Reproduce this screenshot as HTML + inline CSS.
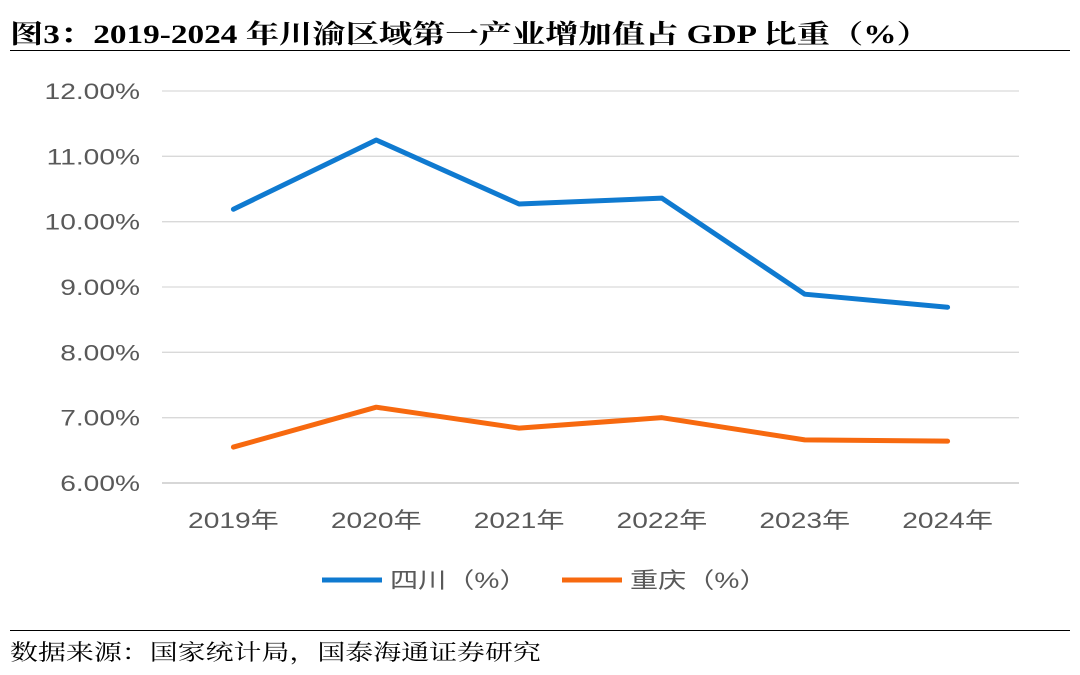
<!DOCTYPE html>
<html><head><meta charset="utf-8">
<style>
html,body{margin:0;padding:0;background:#fff;}
body{width:1080px;height:675px;overflow:hidden;position:relative;font-family:"Liberation Sans","Noto Sans CJK SC",sans-serif;}
#title{position:absolute;left:10px;top:14px;font-family:"Liberation Serif","Noto Serif CJK SC",serif;font-weight:bold;font-size:26px;color:#000;white-space:nowrap;transform:scaleX(1.28);transform-origin:0 0;}
#source{position:absolute;left:10px;top:636px;font-family:"Liberation Serif","Noto Serif CJK SC",serif;font-size:22px;color:#000;white-space:nowrap;transform:scaleX(1.27);transform-origin:0 0;}
.rule{position:absolute;left:10px;width:1060px;height:1px;background:#000;}
</style></head>
<body>
<div id="title">图3：2019-2024 年川渝区域第一产业增加值占 GDP 比重（%）</div>
<div class="rule" style="top:50px"></div>
<svg id="chart" width="1080" height="675" style="position:absolute;left:0;top:0"></svg>
<div class="rule" style="top:630px"></div>
<div id="source">数据来源：国家统计局，国泰海通证券研究</div>
<script>
const categories=["2019年","2020年","2021年","2022年","2023年","2024年"];
const sichuan=[10.19,11.25,10.27,10.36,8.89,8.69];
const chongqing=[6.55,7.16,6.84,7.00,6.66,6.64];
const yTicks=[6,7,8,9,10,11,12];
const yTickLabels=["6.00%","7.00%","8.00%","9.00%","10.00%","11.00%","12.00%"];
const seriesNames=["四川（%）","重庆（%）"];

const NS="http://www.w3.org/2000/svg";
const svg=document.getElementById('chart');
const x0=162,x1=1019,yTop=91,yBot=483,yMin=6,yMax=12;
const step=(x1-x0)/categories.length;
const SX=1.28;
function xs(i){return x0+step*(i+0.5);}
function ys(v){return yBot-(v-yMin)/(yMax-yMin)*(yBot-yTop);}
function mk(tag,attrs,parent){const e=document.createElementNS(NS,tag);for(const k in attrs)e.setAttribute(k,attrs[k]);(parent||svg).appendChild(e);return e;}
function txt(x,y,anchor,str){
  const g=mk('g',{transform:'translate('+x+','+y+') scale('+SX+',1)'});
  const t=mk('text',{x:0,y:0,'text-anchor':anchor,'font-size':22,fill:'#595959','font-family':'Liberation Sans, Noto Sans CJK SC, sans-serif'},g);
  t.textContent=str;
  return t;
}

yTicks.forEach((t,i)=>{
  const g=mk('line',{x1:x0,x2:x1,y1:ys(t),y2:ys(t),stroke:i===0?'#bfbfbf':'#d9d9d9','stroke-width':1.3});
  
  
  const tx=txt(140,ys(t)+8,'end',yTickLabels[i]);
  
  
});
categories.forEach((c,i)=>{
  const tx=txt(xs(i),528,'middle',c);
  
  
});
function drawSeries(vals,color,name){
  const p=mk('polyline',{points:vals.map((v,i)=>xs(i)+','+ys(v)).join(' '),fill:'none',stroke:color,'stroke-width':5,'stroke-linejoin':'round','stroke-linecap':'round'});
  
  
}
drawSeries(sichuan,'#0f7ad0','sichuan-line');
drawSeries(chongqing,'#f7690f','chongqing-line');

const legendX=[322,562],colors=['#0f7ad0','#f7690f'];
seriesNames.forEach((n,i)=>{
  const l=mk('line',{x1:legendX[i],x2:legendX[i]+60,y1:580,y2:580,stroke:colors[i],'stroke-width':5});
  
  
  const t=txt(legendX[i]+68,588,'start',n);
  
  
});
</script>
</body></html>
